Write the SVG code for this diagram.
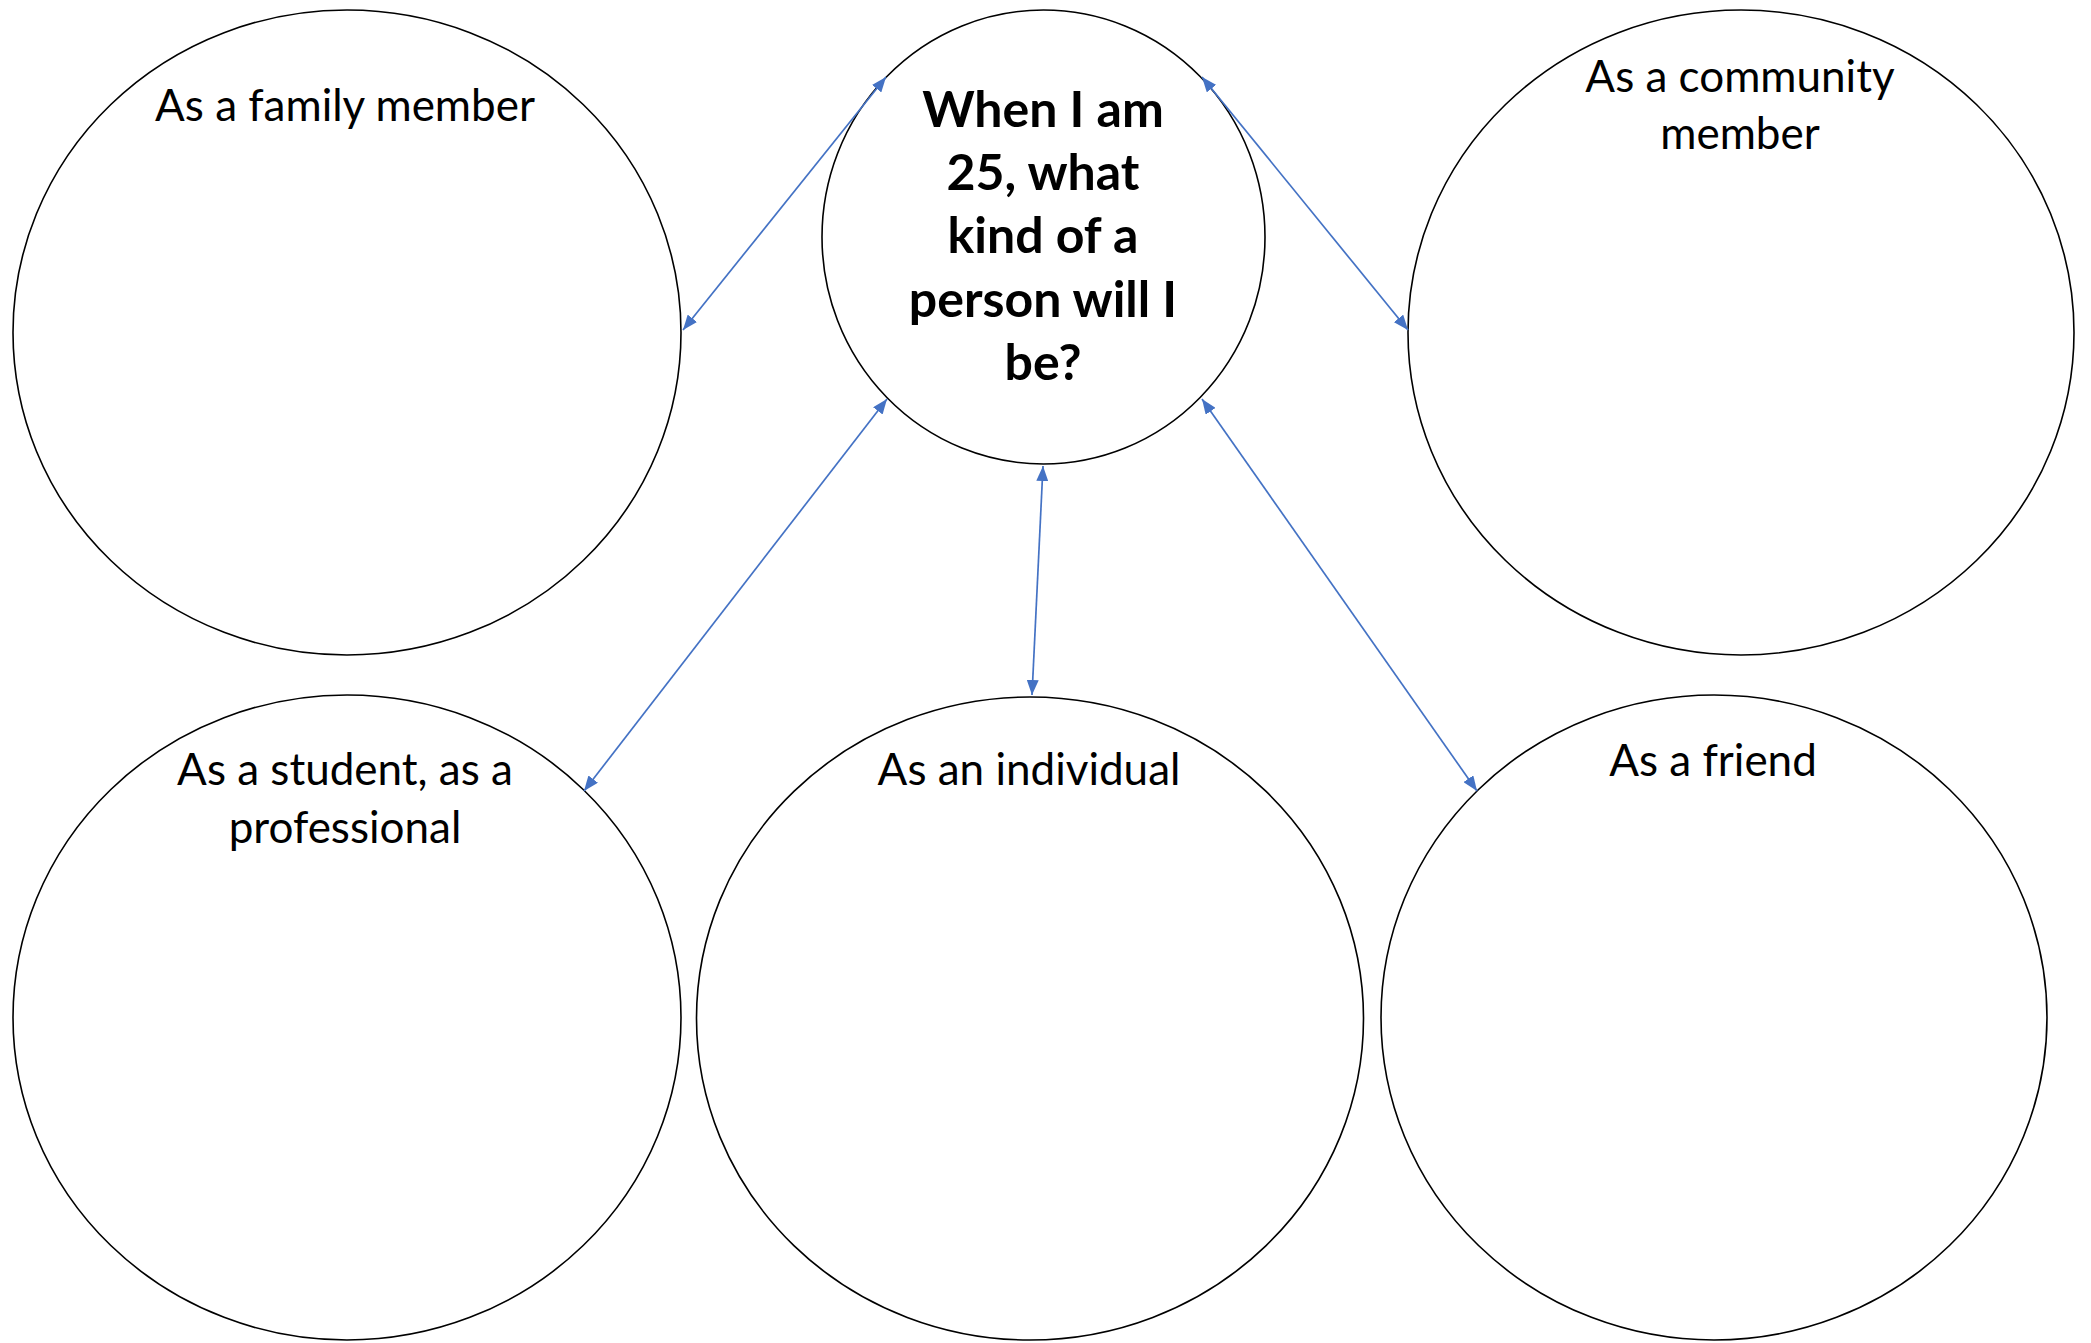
<svg xmlns="http://www.w3.org/2000/svg" width="2091" height="1343" viewBox="0 0 2091 1343">
  <style>
    .node { fill: #ffffff; stroke: #000000; stroke-width: 1.6; }
    .lbl { font-family: Lato, "Liberation Sans", sans-serif; font-size: 44px; fill: #000000; text-anchor: middle; }
    .title { font-family: Lato, "Liberation Sans", sans-serif; font-size: 50px; font-weight: bold; fill: #000000; text-anchor: middle; }
    .conn { stroke: #4472C4; stroke-width: 1.7; fill: none; marker-start: url(#arr); marker-end: url(#arr); }
  </style>
  <defs>
    <marker id="arr" viewBox="0 0 15 12" refX="15" refY="6" markerWidth="15" markerHeight="12" markerUnits="userSpaceOnUse" orient="auto-start-reverse">
      <path d="M0,0 L15,6 L0,12 Z" fill="#4472C4"/>
    </marker>
  </defs>
  <rect x="0" y="0" width="2091" height="1343" fill="#ffffff"/>

  <g id="node-family">
    <ellipse class="node" cx="347" cy="332.5" rx="334" ry="322.5"/>
    <text class="lbl" x="345" y="121">As a family member</text>
  </g>
  <g id="node-center">
    <ellipse class="node" cx="1043.5" cy="237" rx="221.5" ry="227"/>
    <text class="title" x="1043" y="127">When I am</text>
    <text class="title" x="1043" y="190">25, what</text>
    <text class="title" x="1043" y="253">kind of a</text>
    <text class="title" x="1043" y="317">person will I</text>
    <text class="title" x="1043" y="380">be?</text>
  </g>
  <g id="node-community">
    <ellipse class="node" cx="1741" cy="332.5" rx="333" ry="322.5"/>
    <text class="lbl" x="1740" y="92">As a community</text>
    <text class="lbl" x="1740" y="149">member</text>
  </g>
  <g id="node-student">
    <ellipse class="node" cx="347" cy="1017.5" rx="334" ry="322.5"/>
    <text class="lbl" x="345" y="785">As a student, as a</text>
    <text class="lbl" x="345" y="843">professional</text>
  </g>
  <g id="node-individual">
    <ellipse class="node" cx="1030" cy="1018.5" rx="333.5" ry="321.5"/>
    <text class="lbl" x="1029" y="785">As an individual</text>
  </g>
  <g id="node-friend">
    <ellipse class="node" cx="1714" cy="1017.5" rx="333" ry="322.5"/>
    <text class="lbl" x="1713" y="776">As a friend</text>
  </g>

  <g id="connectors">
    <line class="conn" x1="683" y1="330" x2="886" y2="77"/>
    <line class="conn" x1="1202" y1="77" x2="1408" y2="330"/>
    <line class="conn" x1="584" y1="791" x2="887" y2="399"/>
    <line class="conn" x1="1032" y1="695" x2="1043" y2="466"/>
    <line class="conn" x1="1477" y1="791" x2="1202" y2="399"/>
  </g>
</svg>
